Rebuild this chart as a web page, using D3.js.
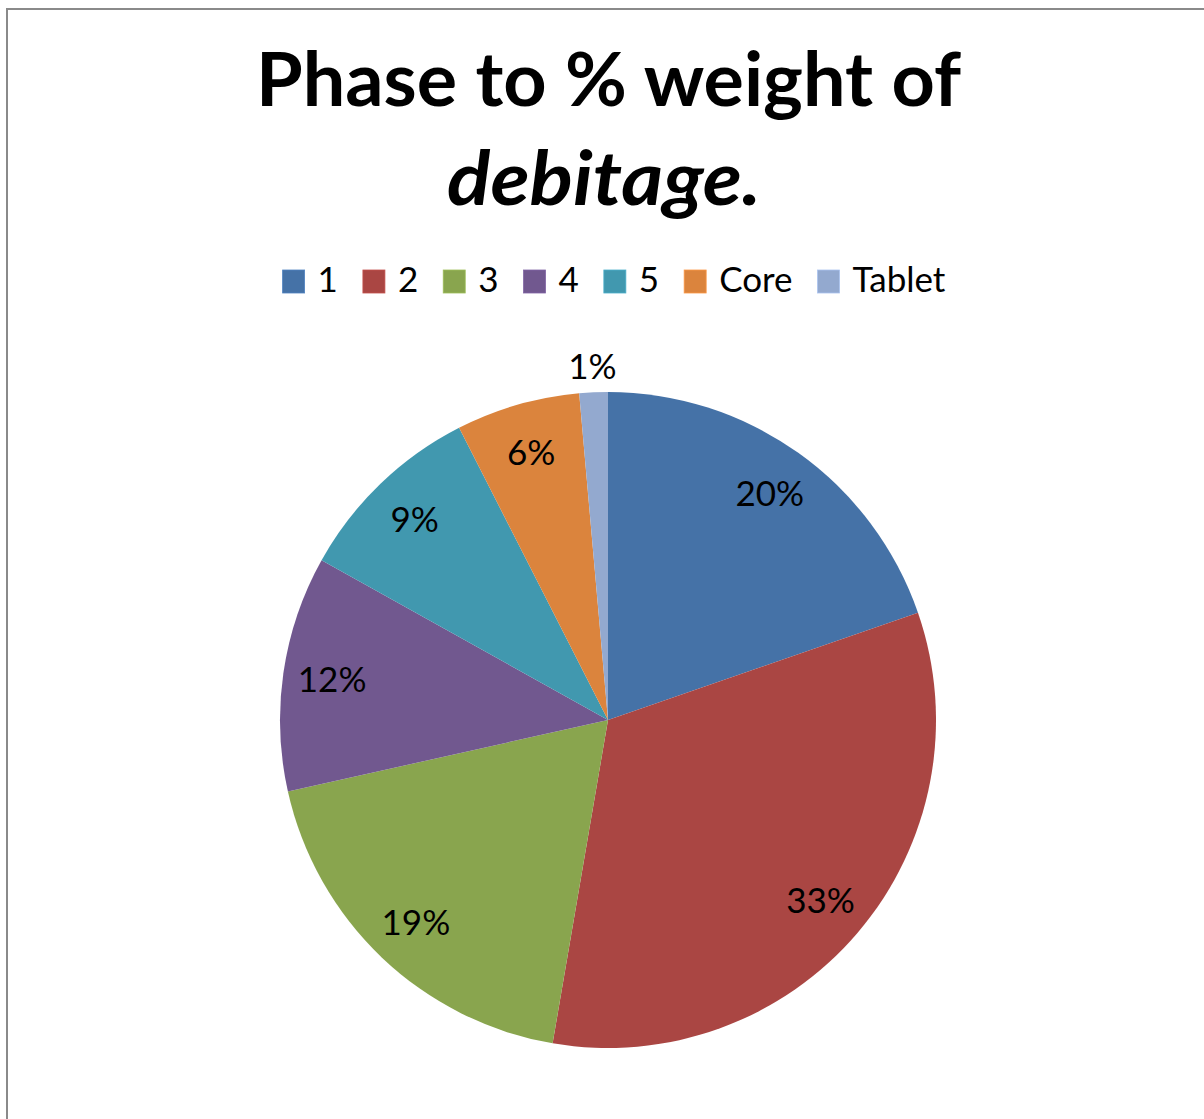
<!DOCTYPE html>
<html>
<head>
<meta charset="utf-8">
<script src="https://cdn.jsdelivr.net/npm/d3@7"></script>
<style>
  html, body { margin: 0; padding: 0; background: #fff; }
  svg { display: block; }
  text { font-family: Lato, "Open Sans", sans-serif; }
</style>
</head>
<body>
<svg id="chart" width="1204" height="1119"></svg>
<script>
// ---- data ----
const categories = ["1", "2", "3", "4", "5", "Core", "Tablet"];
const weights = [19.7, 33.0, 18.8, 11.6, 9.4, 6.1, 1.4];
const colors = ["#4572A7", "#AA4643", "#89A54E", "#71588F", "#4198AF", "#DB843D", "#93A9CF"];
const titleLine1 = "Phase to % weight of";
const titleLine2 = "debitage.";

// ---- layout ----
const W = 1204, H = 1119;
const cx = 608, cy = 720, R = 328;

const svg = d3.select("#chart");

// frame (right/bottom edges fall outside the picture)
svg.append("rect")
  .attr("x", 7).attr("y", 9)
  .attr("width", 1400).attr("height", 1400)
  .attr("fill", "#fff")
  .attr("stroke", "#8a8a8a").attr("stroke-width", 2);

// title
const t1 = svg.append("text")
  .attr("x", 608.5).attr("y", 106)
  .attr("text-anchor", "middle")
  .attr("font-size", 74).attr("font-weight", 700)
  .attr("fill", "#000")
  .text(titleLine1);
const t2 = svg.append("text")
  .attr("x", 604).attr("y", 205)
  .attr("text-anchor", "middle")
  .attr("font-size", 74).attr("font-weight", 700).attr("font-style", "italic")
  .attr("fill", "#000")
  .text(titleLine2);
function fitWidth(sel, target) {
  const w = sel.node().getComputedTextLength();
  if (Math.abs(w - target) > 4) {
    sel.attr("textLength", target).attr("lengthAdjust", "spacingAndGlyphs");
  }
}
fitWidth(t1, 705);
fitWidth(t2, 314);

// legend
const color = d3.scaleOrdinal().domain(categories).range(colors);
const legendFont = 35, sw = 22, gapIn = 13, gapOut = 25;
const legend = svg.append("g");
const items = legend.selectAll("g.item").data(categories).join("g").attr("class", "item");
items.append("rect")
  .attr("width", sw).attr("height", 23)
  .attr("y", 270)
  .attr("fill", d => color(d))
  .attr("stroke", d => d3.color(color(d)).brighter(0.4))
  .attr("stroke-width", 0.8);
items.append("text")
  .attr("x", sw + gapIn).attr("y", 292)
  .attr("font-size", legendFont)
  .attr("fill", "#000")
  .text(d => d);
let xpos = 0;
items.each(function() {
  const g = d3.select(this);
  const tw = g.select("text").node().getComputedTextLength();
  g.attr("transform", `translate(${xpos},0)`);
  xpos += sw + gapIn + tw + gapOut;
});
const totalW = xpos - gapOut;
legend.attr("transform", `translate(${614 - totalW / 2},0)`);

// pie
const pie = d3.pie().sort(null).value(d => d.v).startAngle(0).endAngle(2 * Math.PI);
const data = categories.map((c, i) => ({ c, v: weights[i] }));
const arcs = pie(data);
const arc = d3.arc().innerRadius(0).outerRadius(R);
const total = d3.sum(weights);

const gPie = svg.append("g").attr("transform", `translate(${cx},${cy})`);
gPie.selectAll("path").data(arcs).join("path")
  .attr("d", arc)
  .attr("fill", d => color(d.data.c));

const inArc = d3.arc().innerRadius(R * 0.85).outerRadius(R * 0.85);
const outArc = d3.arc().innerRadius(R + 26).outerRadius(R + 26);
gPie.selectAll("text.lbl").data(arcs).join("text")
  .attr("class", "lbl")
  .attr("transform", d => {
    const pct = d.data.v / total * 100;
    const p = (pct < 3 ? outArc : inArc).centroid(d);
    return `translate(${p[0]},${p[1]})`;
  })
  .attr("text-anchor", "middle")
  .attr("dy", "0.36em")
  .attr("font-size", legendFont)
  .attr("fill", "#000")
  .text(d => Math.round(d.data.v / total * 100) + "%");
</script>
</body>
</html>
